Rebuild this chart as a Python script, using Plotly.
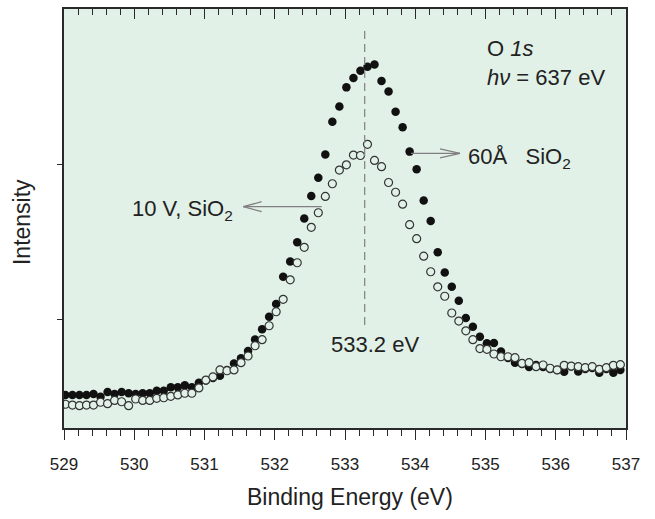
import plotly.graph_objects as go

# Binding energy grid (eV), 0.1 eV steps
energy = [round(529.02 + 0.1 * k, 2) for k in range(80)]

# 60 Å SiO2 (filled circles), arbitrary intensity units
filled_60A = [513, 513, 513, 513, 519, 502, 532, 519, 532, 524,
              519, 524, 524, 540, 540, 562, 562, 575, 562, 592,
              606, 622, 637, 674, 716, 749, 796, 871, 936, 1017,
              1099, 1275, 1373, 1497, 1650, 1795, 1913, 2063, 2273, 2371,
              2495, 2556, 2602, 2628, 2643, 2536, 2468, 2338, 2238, 2081,
              1967, 1766, 1634, 1433, 1302, 1210, 1120, 1009, 953, 888,
              846, 848, 793, 751, 721, 712, 693, 706, 693, 680,
              674, 663, 696, 664, 680, 687, 656, 680, 656, 674]

# 10 V, SiO2 (open circles)
open_10V = [453, 448, 444, 448, 448, 466, 457, 478, 469, 444,
            487, 478, 478, 491, 495, 504, 513, 524, 524, 558,
            609, 629, 674, 669, 674, 721, 764, 830, 869, 959,
            1049, 1129, 1255, 1365, 1464, 1593, 1687, 1792, 1874, 1962,
            1996, 2059, 2056, 2128, 2024, 1984, 1882, 1819, 1742, 1610,
            1520, 1407, 1307, 1210, 1149, 1041, 989, 926, 869, 812,
            807, 777, 759, 759, 753, 717, 721, 695, 706, 685,
            674, 704, 699, 695, 689, 695, 678, 689, 704, 708]

x_ticks = [529, 530, 531, 532, 533, 534, 535, 536, 537]
x_ticklabels = ["529", "530", "531", "532", "533", "534", "535", "536", "537"]
y_ticks = [1000, 2000]
peak_energy = 533.28

BG = "rgb(225,241,231)"
AX = "#2a2a2a"
TXT = "#222222"
FONT = "Arial, Liberation Sans, sans-serif"

fig = go.Figure()
fig.add_trace(go.Scatter(
    x=energy, y=filled_60A, mode="markers", name="60 Å SiO2",
    marker=dict(symbol="circle", size=8.5, color="#111111",
                line=dict(width=0))))
fig.add_trace(go.Scatter(
    x=energy, y=open_10V, mode="markers", name="10 V, SiO2",
    marker=dict(symbol="circle", size=8, color=BG,
                line=dict(width=1.2, color="#333333"))))
# dummy trace for the top axis
fig.add_trace(go.Scatter(x=[529], y=[None], xaxis="x2", mode="markers",
                         showlegend=False, hoverinfo="skip"))

shapes = [
    # dashed peak line
    dict(type="line", xref="x", yref="y", x0=peak_energy, x1=peak_energy,
         y0=964, y1=2864, line=dict(color="#888888", width=1.3, dash="8px,5px")),
    # left arrow (10 V)
    dict(type="line", xref="x", yref="y", x0=531.552, x1=532.668, y0=1726, y1=1726,
         line=dict(color="#808080", width=1.3)),
    dict(type="line", xref="x", yref="y", x0=531.552, x1=531.814, y0=1726, y1=1758,
         line=dict(color="#808080", width=1.3)),
    dict(type="line", xref="x", yref="y", x0=531.552, x1=531.814, y0=1726, y1=1694,
         line=dict(color="#808080", width=1.3)),
    # right arrow (60 Å)
    dict(type="line", xref="x", yref="y", x0=533.94, x1=534.637, y0=2070, y1=2070,
         line=dict(color="#808080", width=1.3)),
    dict(type="line", xref="x", yref="y", x0=534.637, x1=534.352, y0=2070, y1=2098,
         line=dict(color="#808080", width=1.3)),
    dict(type="line", xref="x", yref="y", x0=534.637, x1=534.352, y0=2070, y1=2040,
         line=dict(color="#808080", width=1.3)),
]

annotations = [
    dict(text="O <i>1s</i>", xref="x", yref="y", x=534.99, y=2748,
         xanchor="left", yanchor="middle", showarrow=False,
         font=dict(size=22, color=TXT, family=FONT)),
    dict(text="<i>hν</i> = 637 eV", xref="x", yref="y", x=534.99, y=2561,
         xanchor="left", yanchor="middle", showarrow=False,
         font=dict(size=22, color=TXT, family=FONT)),
    dict(text="60Å\u00a0\u00a0 SiO<sub>2</sub>", xref="x", yref="y", x=534.72, y=2040,
         xanchor="left", yanchor="middle", showarrow=False,
         font=dict(size=22, color=TXT, family=FONT)),
    dict(text="10 V, SiO<sub>2</sub>", xref="x", yref="y", x=529.94, y=1705,
         xanchor="left", yanchor="middle", showarrow=False,
         font=dict(size=22, color=TXT, family=FONT)),
    dict(text="533.2 eV", xref="x", yref="y", x=533.427, y=841,
         xanchor="center", yanchor="middle", showarrow=False,
         font=dict(size=22, color=TXT, family=FONT)),
    dict(text="Intensity", xref="paper", yref="paper", x=-0.0747, y=0.4916,
         xanchor="center", yanchor="middle", textangle=-90, showarrow=False,
         font=dict(size=23, color=TXT, family=FONT)),
    dict(text="Binding Energy (eV)", xref="paper", yref="paper", x=0.509, y=-0.1647,
         xanchor="center", yanchor="middle", showarrow=False,
         font=dict(size=23, color=TXT, family=FONT)),
]

fig.update_layout(
    width=655, height=519,
    margin=dict(l=64, r=29, t=9, b=91, pad=0),
    paper_bgcolor="white", plot_bgcolor=BG,
    showlegend=False,
    shapes=shapes, annotations=annotations,
    xaxis=dict(range=[529, 537], tickmode="array", tickvals=x_ticks,
               ticktext=x_ticklabels, ticks="outside", ticklen=10, tickwidth=1.2,
               tickcolor=AX, showline=True, linecolor=AX, linewidth=1.5,
               mirror=False, showgrid=False, zeroline=False,
               ticklabelstandoff=10,
               tickfont=dict(size=17, color=TXT, family=FONT),
               minor=dict(dtick=0.2, tick0=529, ticks="outside", ticklen=6,
                          tickwidth=1.1, tickcolor=AX, showgrid=False)),
    xaxis2=dict(range=[529, 537], overlaying="x", side="top", anchor="y",
                tickmode="array", tickvals=x_ticks, showticklabels=False,
                ticks="inside", ticklen=10, tickwidth=1.2, tickcolor=AX,
                showline=True, linecolor=AX, linewidth=1.5,
                showgrid=False, zeroline=False,
                minor=dict(dtick=0.2, tick0=529, ticks="inside", ticklen=6,
                           tickwidth=1.1, tickcolor=AX, showgrid=False)),
    yaxis=dict(range=[300, 3000], tickmode="array", tickvals=y_ticks,
               showticklabels=False, ticks="outside", ticklen=5, tickwidth=1.2,
               tickcolor=AX, showline=True, linecolor=AX, linewidth=1.5,
               mirror=True, showgrid=False, zeroline=False),
)

fig.write_html("out.html")
